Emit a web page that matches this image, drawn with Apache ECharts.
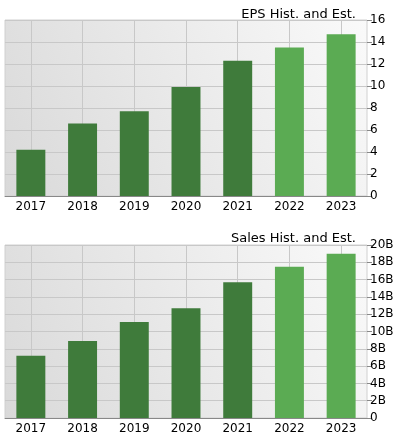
<!DOCTYPE html><html><head><meta charset="utf-8"><script src="https://cdn.jsdelivr.net/npm/echarts@6/dist/echarts.min.js"></script></head><body style="margin:0"><div id="c" style="width:406px;height:440px"></div><script>
const years=['2017','2018','2019','2020','2021','2022','2023'];
const eps=[4.2,6.6,7.7,9.9,12.3,13.5,14.7];
const sales=[7.2,8.9,11.1,12.7,15.7,17.5,19.0];
const estStart=5;
const dark='#3f7b3b',light='#5bab53';
const bg={type:'linear',x:0,y:1,x2:1,y2:0,colorStops:[{offset:0,color:'#d9d9d9'},{offset:1,color:'#fafafa'}]};
const font='DejaVu Sans';
function grid(top,h){return {left:5,right:39,top:top,height:h,show:true,backgroundColor:bg,borderColor:'#d0d0d0',borderWidth:1};}
function xa(i){return {gridIndex:i,type:'category',data:years,axisTick:{show:false},axisLine:{lineStyle:{color:'#888'}},axisLabel:{color:'#000',fontFamily:font,fontSize:12,margin:5}};}
function ya(i,max,iv,fmt){return {gridIndex:i,type:'value',position:'right',min:0,max:max,interval:iv,axisLine:{show:false},axisTick:{show:true,length:5,lineStyle:{color:'#888'}},splitLine:{lineStyle:{color:'#c8c8c8'}},axisLabel:{color:'#000',fontFamily:font,fontSize:12,margin:3,formatter:fmt}};}
function bars(i,d){return [{type:'bar',xAxisIndex:i,yAxisIndex:i,barWidth:'56%',z:3,data:d.map((v,k)=>({value:v,itemStyle:{color:k>=estStart?light:dark}}))},
{type:'line',xAxisIndex:i,yAxisIndex:i,data:[],z:1,markLine:{z:1,silent:true,symbol:'none',label:{show:false},lineStyle:{color:'#c8c8c8',type:'solid',width:1},data:years.map(y=>({xAxis:y}))}}];}
const ch=echarts.init(document.getElementById('c'));
ch.setOption({animation:false,
title:[{text:'EPS Hist. and Est.',right:45,top:3,textStyle:{fontSize:13,fontWeight:'normal',fontFamily:font,color:'#000'}},
{text:'Sales Hist. and Est.',right:45,top:227,textStyle:{fontSize:13,fontWeight:'normal',fontFamily:font,color:'#000'}}],
grid:[grid(20,176),grid(245,173)],
xAxis:[xa(0),xa(1)],
yAxis:[ya(0,16,2,v=>v),ya(1,20,2,v=>v===0?'0':v+'B')],
series:[...bars(0,eps),...bars(1,sales)]});
</script></body></html>
